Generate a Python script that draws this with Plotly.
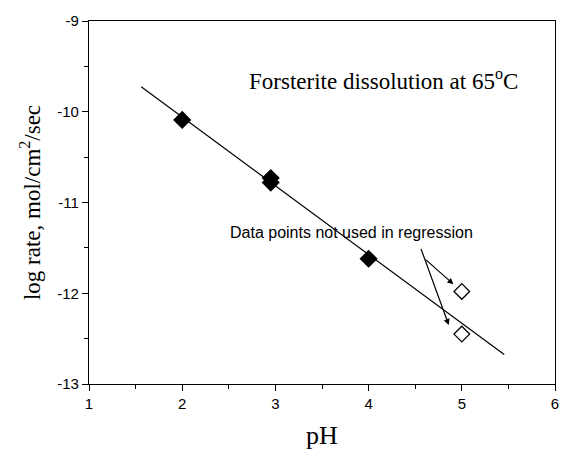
import plotly.graph_objects as go

# data
ph_used = [2.0, 2.95, 2.95, 4.0]
rate_used = [-10.09, -10.73, -10.78, -11.62]
ph_excl = [5.0, 5.0]
rate_excl = [-11.98, -12.45]
fit_x = [1.56, 5.455]
fit_y = [-9.725, -12.676]
x_ticks = [1, 2, 3, 4, 5, 6]
y_ticks = [-13, -12, -11, -10, -9]
y_tick_text = ["-13", "-12", "-11", "-10", "-9"]

fig = go.Figure()
fig.add_trace(go.Scatter(x=fit_x, y=fit_y, mode="lines",
                         line=dict(color="black", width=1.2), showlegend=False))
fig.add_trace(go.Scatter(x=ph_used, y=rate_used, mode="markers",
                         marker=dict(symbol="diamond", size=14, color="black"),
                         showlegend=False))
fig.add_trace(go.Scatter(x=ph_excl, y=rate_excl, mode="markers",
                         marker=dict(symbol="diamond-open", size=12, color="black",
                                     line=dict(width=1.3)),
                         showlegend=False))

fig.add_annotation(x=3.82, y=-11.33, xref="x", yref="y",
                   text="Data points not used in regression", showarrow=False,
                   font=dict(family="Liberation Sans, Arial", size=16, color="black"))
fig.add_annotation(x=4.91, y=-11.90, ax=4.58, ay=-11.6, xref="x", yref="y",
                   axref="x", ayref="y", showarrow=True, arrowhead=2,
                   arrowsize=1, arrowwidth=1.2, arrowcolor="black", text=" ")
fig.add_annotation(x=4.86, y=-12.35, ax=4.53, ay=-11.42, xref="x", yref="y",
                   axref="x", ayref="y", showarrow=True, arrowhead=2,
                   arrowsize=1, arrowwidth=1.2, arrowcolor="black", text=" ")
fig.add_annotation(x=4.16, y=-9.65, xref="x", yref="y",
                   text="Forsterite dissolution at 65<sup>o</sup>C", showarrow=False,
                   font=dict(family="Liberation Serif, Times New Roman", size=23, color="black"))

axis_common = dict(showgrid=False, zeroline=False, showline=True, linecolor="black",
                   linewidth=1.2, mirror=True, ticks="outside", ticklen=6,
                   tickcolor="black", tickwidth=1.2,
                   tickfont=dict(family="Liberation Sans, Arial", size=15, color="black"),
                   minor=dict(ticks="outside", ticklen=4, tickcolor="black", tickwidth=1, dtick=0.5))

fig.update_xaxes(range=[1, 6], tickvals=x_ticks, **axis_common,
                 title=dict(text="pH", font=dict(family="Liberation Serif, Times New Roman",
                                                 size=26, color="black"), standoff=14))
fig.update_yaxes(range=[-13, -9], tickvals=y_ticks, ticktext=y_tick_text, **axis_common,
                 title=dict(text="log rate, mol/cm<sup>2</sup>/sec",
                            font=dict(family="Liberation Serif, Times New Roman",
                                      size=23, color="black"), standoff=10))

fig.update_layout(width=571, height=456, plot_bgcolor="white", paper_bgcolor="white",
                  margin=dict(l=89, r=14, t=15, b=67))
fig.write_html("out.html")
